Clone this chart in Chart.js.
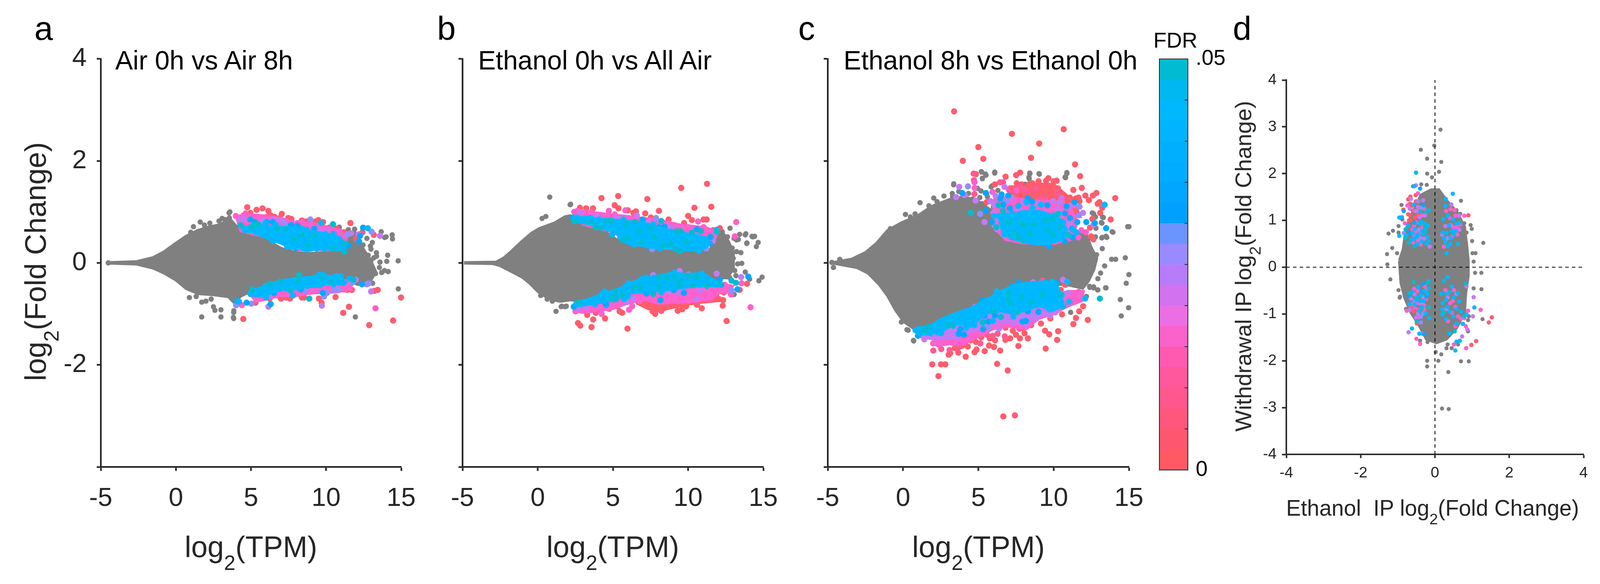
<!DOCTYPE html>
<html><head><meta charset="utf-8">
<script src="https://cdn.jsdelivr.net/npm/chart.js@4"></script>
<style>
html,body{margin:0;padding:0;background:#fff;overflow:hidden}
#page{position:relative;width:100vw;height:100vh;overflow:hidden;background:#fff;font-family:"Liberation Sans",Arial,sans-serif}
canvas{position:absolute}
.t{position:absolute;white-space:pre;line-height:1;color:#262626}
.k{color:#000}
.r{transform:rotate(-90deg) translateX(-50%);transform-origin:0 0}
.c{transform:translateX(-50%)}
</style></head><body><div id="page"></div>
<script>
// ---------- values ----------
const xTicksTPM=[-5,0,5,10,15];
const yTicksFC=[-4,-2,0,2,4];
const fdrSegment=[.0025,.0025,.0025,.0025,.0025,.0025,.0025,.0025,.0025,.0025,.0025,.0025,.0025,.0025,.0025,.0025,.0025,.0025,.0025,.0025];
const fdrColors=['#FF5A64','#FF5670','#FF567E','#FF578E','#FF589C','#FF5AB0','#FA62CC','#EC6EE4','#D272EE','#B67CFA','#9A8AFF','#6C94FF','#00A0FF','#00A6FF','#00ACFF','#00B0FF','#00B4FF','#00B8FC','#00B8F0','#00BBD2'];

// panel a
const aMass=[[-4.5,0],[-2.6,.02],[-1.5,.1],[-.75,.22],[0,.38],[.7,.52],[1.45,.63],[2.2,.7],[2.9,.74],[3.6,.85],[4,.72],[4.5,.62],[5,.56],[6,.45],[7,.28],[8,.2],[9,.18],[10,.2],[11,.24],[11.3,.45],[11.9,.6],[12.2,.42],[12.5,.25],[12.9,.08],[13.3,-.18],[13,-.32],[12.5,-.42],[12.1,-.42],[11.5,-.33],[11,-.28],[10,-.25],[9,-.24],[8,-.28],[7,-.33],[6,-.42],[5,-.55],[4.3,-.65],[3.9,-.78],[3.5,-.66],[2.5,-.62],[1.5,-.6],[.7,-.5],[0,-.33],[-.75,-.2],[-1.5,-.1],[-2.6,-.02]];
const aBandPinkUp=[[4,.9],[5,.95],[6,.93],[7,.88],[8,.8],[9,.78],[10,.72],[11,.62],[11.4,.5],[11.2,.25],[8,.25],[6,.5],[4.3,.62]];
const aBandSkyUp=[[4.3,.72],[5,.7],[6,.72],[7,.7],[8,.68],[9,.62],[10,.58],[10.9,.5],[11.2,.42],[11.3,.25],[10.5,.26],[9.5,.27],[8.8,.25],[7.6,.3],[7,.38],[6.4,.43],[5.8,.52],[5,.6],[4.5,.62]];
const aBandPinkLo=[[4.9,-.6],[6,-.45],[8,-.35],[10,-.3],[11.7,-.35],[11.7,-.52],[10.7,-.58],[9,-.6],[8,-.65],[7,-.65],[6,-.72],[5.3,-.76]];
const aBandSkyLo=[[4.9,-.55],[5.5,-.5],[6.2,-.42],[7,-.34],[8,-.3],[9,-.27],[9.6,-.22],[10,-.25],[11,-.26],[11.3,-.38],[11,-.42],[10,-.42],[9.5,-.47],[8.5,-.48],[8,-.52],[7,-.52],[6.3,-.6],[5.8,-.66],[5.2,-.65],[4.9,-.62]];
const aGray=[[-4.5,0],[13.67,.61],[13.9,.5],[14,.51],[14.4,.55],[14.42,.47],[12.72,.48],[13.08,.4],[12.95,.33],[12.99,.27],[13.35,.2],[12.8,.15],[14.1,.15],[14.04,.03],[14.8,.04],[13.18,.1],[13,.05],[13.59,.015],[13.36,.13],[13.55,-.09],[13.7,-.19],[13.89,-.15],[14.14,-.17],[13.29,-.21],[14.81,-.51],[13.1,-.4],[11.95,-1.06],[3.86,-.94],[3.83,-1.07],[12.46,.35],[12.46,.24],[12.42,.1],[11.9,.66],[11.48,.65],[10.88,.7],[3.54,.98],[3.6,1],[3.56,.88],[1.62,.8],[1.9,.74],[2.26,.78],[.99,.6],[1.17,.71],[2.87,.82],[3.08,.87],[3.27,.85],[1.72,-1.06],[2,-.75],[1.72,-.77],[.9,-.68],[1.35,-.66],[2.5,-.86],[2.6,-.93],[3,-.92],[3,-1.06],[3.85,-.97],[3.85,-1.09],[2.35,-.71],[3.8,-.71]];
const aRed=[[4.75,1.09],[5.37,1.04],[5.77,1.07],[6.16,1.02],[6.31,.93],[7.05,.96],[7.48,.88],[7.69,.86],[4.96,.98],[6.05,.9],[6.58,.9],[6.92,.88],[8.39,.83],[8.67,.81],[9.29,.81],[9.48,.84],[9.8,.8],[10.2,.69],[10.69,.67],[11.18,.6],[11.62,.78],[12.42,.6],[13.18,.55],[12,.47],[14.99,-.68],[14.46,-1.13],[12.87,-1.22],[11.52,-.86],[11.14,-.98],[4.49,-1.1],[9.7,-.78],[9.52,-.7],[10.63,-.67],[13.44,-.53],[13.21,-.55],[11.72,-.53],[11.4,-.53],[11.16,-.52],[8.54,-.68],[8.39,-.68],[7.33,-.68],[7.6,-.7],[7,-.7],[6.88,-.65],[9.18,-.54],[5.3,-.78],[5.48,-.71],[6.24,-.7],[8.24,-.61]];
const aPink=[[3.99,.92],[4.28,.89],[4.65,.97],[4.5,.93],[5.56,.88],[5.22,.84],[6.28,.88],[8.39,.8],[8.09,.78],[10.91,.62],[11.29,.52],[10.35,.67],[13.29,-.89],[4.39,-.83],[8.92,-.57],[9.41,-.55],[10.05,-.52],[8.05,-.57],[6.8,-.57],[5.56,-.63]];
const aViolet=[[6.16,-.86],[9.72,-.84],[13,-.56],[12.72,-.42],[13.59,.53],[11.67,.58],[11.97,-.33],[5.79,.83],[6.69,.84],[10.05,.62],[4.24,.84],[4.53,.86],[6.47,.85],[7.1,.83],[9.59,.64],[12.16,.56]];
const aPeri=[[8.95,.85],[11.42,.56],[13.03,.61],[12.85,-.4],[4.01,-.83],[5.03,-.8],[9.86,-.66],[10.06,-.59],[10.84,-.52],[10.56,-.54],[8.61,-.54],[11.74,-.39],[6.24,-.64],[7.3,.75]];
const aBlue=[[12.46,.69],[12.26,.53],[12.2,.42],[4.96,.85],[5.26,.8],[4.09,-.75],[4.71,-.78],[6.31,-.81],[9.78,-.59],[12.4,-.42],[6.54,-.59],[8.31,-.52],[6.05,.8],[6.46,.8],[7.67,.74],[8.09,.73],[9.22,.67],[10.8,.4],[11.48,.34],[8.46,.29],[8,.29]];
const aSky=[[12.78,.68],[9.67,.78],[4.62,.64],[5.11,.67],[5.48,.67],[5.75,.55],[5.82,.7],[5.97,.78],[6.24,.67],[6.46,.43],[6.65,.54],[6.65,.75],[6.88,.46],[6.95,.67],[7.26,.45],[7.41,.32],[7.67,.31],[7.48,.67],[7.71,.6],[8.01,.67],[8.01,.42],[8.27,.31],[8.39,.67],[8.69,.65],[8.73,.26],[8.99,.28],[8.84,.5],[8.92,.4],[9.37,.28],[9.59,.52],[9.52,.4],[9.97,.56],[10.2,.47],[9.86,.28],[10.05,.31],[10.5,.57],[10.5,.46],[10.84,.47],[10.69,.28],[10.91,.38],[11.1,.29],[8.16,.52],[6.95,.56],[7.71,.42],[8.54,.47],[9.97,.42],[9.2,.45],[7.2,.56],[8.3,.4],[4.2,-.76],[4.96,-.61],[5.52,-.53],[5.41,-.57],[5.97,-.45],[5.9,-.62],[6.01,-.68],[6.09,-.59],[6.43,-.52],[6.62,-.42],[6.92,-.51],[7.26,-.39],[7.41,-.37],[7.33,-.5],[7.8,-.64],[7.78,-.42],[8.2,-.49],[8.69,-.37],[8.73,-.45],[8.95,-.31],[9.29,-.39],[9.56,-.23],[9.56,-.44],[9.82,-.24],[9.97,-.37],[10.2,-.35],[10.69,-.26],[10.95,-.26],[10.5,-.42],[10.99,-.39],[11.18,-.39],[11.56,-.31],[8.24,-.34],[9.14,-.35]];
const aTeal=[[4.31,.74],[6.73,.67],[7.26,.66],[7.86,.48],[8.39,.55],[9.18,.53],[8.8,.34],[10.42,.28],[11.27,.38],[11.2,.22],[10.46,.76],[5.33,.75],[5.5,.75],[5.03,.71],[5.07,-.52],[6.28,-.41],[6.93,-.37],[7.63,-.54],[8.88,-.7],[8.2,-.24],[8.09,-.36],[10.39,-.37],[11.82,-.33],[9.75,-.29]];

// panel b
const bMass=[[-4.9,0],[-2.77,.01],[-2.26,.09],[-1.75,.22],[-1.07,.41],[-.39,.58],[.12,.67],[1.14,.78],[1.82,.9],[2.16,.92],[2.44,.78],[3.5,.72],[4.5,.6],[5,.5],[5.49,.4],[6.5,.33],[7.4,.3],[8.2,.25],[9.5,.22],[10.5,.22],[11.5,.27],[12,.55],[12.35,.57],[12.7,.4],[13,.19],[13,-.11],[12.6,-.29],[12.35,-.29],[11.5,-.31],[10.5,-.2],[10,-.21],[9,-.21],[8,-.26],[7,-.32],[6,-.42],[5,-.52],[4,-.65],[3,-.75],[2.2,-.72],[1.5,-.75],[1,-.72],[.3,-.62],[0,-.55],[-.5,-.4],[-1,-.28],[-1.7,-.17],[-2.5,-.05],[-3,-.01]];
const bBandPinkUp=[[2.4,1],[3.6,1],[4.9,.95],[6,.92],[7,.88],[8,.85],[9.5,.75],[10.5,.72],[11.2,.7],[12,.6],[11.7,.4],[10.7,.28],[8,.28],[6,.4],[5,.6],[3,.75]];
const bBandSkyUp=[[2.3,.9],[3.5,.88],[5,.85],[6,.82],[7,.8],[7.8,.72],[8.6,.65],[9.5,.6],[10.5,.55],[11.2,.5],[11.5,.4],[11.2,.3],[10.7,.24],[9.5,.25],[8.5,.28],[7.5,.3],[6.5,.36],[5.6,.42],[5.2,.6],[4.6,.65],[3.8,.72],[3,.78],[2.4,.82]];
const bBandRedLo=[[6.3,-.6],[7,-.6],[12,-.6],[12,-.75],[11,-.78],[10,-.82],[9,-.88],[8,-.95],[7.3,-.9],[6.6,-.8]];
const bBandPinkLo=[[2.4,-.85],[5,-.6],[6,-.5],[8,-.4],[10,-.35],[12,-.4],[13,-.45],[12.8,-.58],[12,-.6],[11.6,-.72],[10,-.78],[8,-.8],[7,-.72],[6,-.8],[5,-.9],[4,-.95],[3,-.98],[2.5,-.95]];
const bBandSkyLo=[[2.4,-.8],[3.2,-.72],[4.2,-.62],[4.9,-.55],[5.6,-.48],[6.2,-.38],[7,-.3],[8,-.25],[9,-.19],[10,-.22],[11,-.2],[11.5,-.3],[12.1,-.38],[12,-.45],[11,-.45],[10,-.48],[9,-.52],[8,-.55],[7,-.58],[6,-.6],[5.2,-.72],[4.4,-.78],[3.6,-.8],[2.8,-.85]];
const bGray=[[2.19,1.15],[2.4,1],[12.79,.68],[13.84,.57],[14.25,.52],[14.42,.52],[13.91,.39],[14.54,.32],[13.43,.56],[13.34,.46],[13.22,.45],[13.06,.48],[12.62,.51],[12.27,.61],[11.28,.65],[9.05,.75],[12.56,.22],[13.22,.22],[13.51,.2],[12.93,.29],[12.81,.14],[13.3,-.02],[13.57,-.01],[13,.09],[13.1,-.15],[13.8,-.18],[13.18,-.25],[12.77,-.29],[13.06,-.62],[14.09,-.32],[1.9,-.85],[1.61,-.85],[1.9,-.71],[.8,1.29],[2.16,1.14],[.29,.87],[.54,.91],[14.3,.51],[13.8,.55],[14.66,.4],[13.9,.38],[14.71,-.35],[14.92,-.28],[1.22,-.95],[1.56,-.86],[1.82,-.86],[.63,-.71],[.97,-.75],[.2,-.64]];
const bRed=[[9.54,1.47],[11.26,1.55],[4.24,1.27],[5.35,1.31],[7.29,1.25],[10.42,1.08],[11.54,1.1],[5.12,1.13],[5.37,1.07],[5.99,1.03],[6.36,.98],[6.53,1.01],[7.15,.97],[8.06,1.02],[7.52,.89],[8.7,.85],[10,.92],[10.25,.84],[9.73,.78],[9.38,.71],[11.03,.85],[11.24,.85],[10,.7],[12.11,.68],[11.65,.64],[2.81,1.08],[3.22,1.07],[3.68,1.07],[13.92,-.41],[13.43,-.53],[12.56,-1.14],[5.97,-1.29],[3.58,-1.26],[2.83,-1.23],[2.68,-1.18],[3.69,-1.11],[4.48,-1.09],[3.29,-1.02],[5.62,-.98],[5.45,-.95],[7.81,-1],[7.64,-.95],[8.22,-.94],[9.31,-.94],[9.61,-.91],[9.87,-.85],[9.01,-.82],[8.68,-.81],[10.91,-.89],[10.59,-.82],[12.3,-.84],[12.06,-.71],[12.33,-.73],[12.38,-.58],[11.44,-.71],[11.11,-.71],[11.73,-.62],[10.12,-.75],[9.54,-.77],[8.22,-.84],[7.89,-.86],[7.4,-.85],[7.06,-.77],[6.98,-.67],[5.29,-.85],[4.99,-.86],[4.75,-.9],[3.86,-.98],[4.17,-.86],[10.37,-.66],[8.47,-.77],[8.9,-.72],[7.7,-.72],[7.3,-.72]];
const bPink=[[2.44,1],[2.64,1.02],[3.1,.99],[3.55,.99],[4.73,1.02],[5.83,1.03],[5.12,.95],[10.66,.81],[11.03,.7],[13.2,.8],[13.1,.52],[14.15,-.87],[4.09,-.92],[2.52,-.95],[3.51,-.92],[4.25,-1],[6.07,-.92],[6.28,-.85],[6.78,-.75],[8.88,-.67],[9.87,-.72],[11.24,-.66],[11.57,-.62],[12.44,-.43],[13.55,-.4],[12.85,-.62],[10.2,-.62],[9.25,-.65],[7.56,-.72],[10.87,.42],[10.66,.5]];
const bViolet=[[6.59,.93],[2.85,.99],[3.9,.92],[2.68,-.9],[3.22,-.87],[9.44,-.16],[11.9,-.21],[13.53,-.28],[10.6,-.71],[11.65,.43],[8.84,.7],[5.25,.88],[5.49,.87],[4.83,.65],[7.31,.78],[8.06,.62],[10.04,.29],[6.36,-.7],[5.91,-.77],[10.78,-.54],[9.34,-.58],[8.72,-.56],[7.68,-.24],[10.04,-.23]];
const bPeri=[[12.89,-.54],[11.21,.28],[7.61,.27],[7.87,.88]];
const bBlue=[[2.4,-.86],[2.35,.89],[10.58,.66],[11.44,.38],[11.49,.51],[12.11,-.33],[13.28,-.52],[14,-.27],[4.54,-.82],[8.16,-.73],[9.72,-.59],[8.43,.71],[8.06,.7],[6.98,.85],[9.05,-.53],[7.23,-.6],[12.19,-.43]];
const bSky=[[2.6,.89],[2.93,.86],[3.18,.87],[3.51,.88],[4.09,.85],[4.63,.67],[4.96,.56],[5.2,.67],[5.66,.62],[5.49,.5],[6,.42],[6.2,.39],[6.43,.36],[6.57,.55],[7.06,.57],[7.27,.34],[7.4,.45],[7.68,.76],[7.56,.5],[7.89,.42],[8.14,.29],[8.22,.52],[8.55,.32],[8.63,.57],[8.84,.62],[9.05,.4],[9.46,.4],[9.75,.56],[9.54,.32],[10.12,.29],[10.37,.27],[10.7,.46],[10.73,.24],[10.58,.37],[11.16,.45],[11.9,.65],[5.7,.85],[6.49,.8],[6.15,.73],[2.56,-.81],[3.18,-.79],[3.26,-.77],[3.8,-.71],[3.8,-.81],[4.17,-.7],[4.46,-.56],[4.25,-.62],[4.79,-.63],[5.08,-.72],[5.66,-.52],[5.83,-.47],[5.99,-.65],[6.03,-.4],[5.74,-.71],[6.24,-.54],[6.9,-.32],[7.19,-.29],[6.98,-.52],[7.31,-.49],[7.73,-.29],[7.56,-.44],[8.22,-.58],[8.47,-.39],[8.78,-.24],[9.11,-.19],[8.88,-.42],[9.46,-.32],[9.87,-.42],[10.45,-.24],[10.91,-.21],[10.29,-.32],[10.82,-.43],[11.2,-.3],[11.61,-.42],[11.86,-.43]];
const bTeal=[[2.44,.82],[3.53,.78],[3.86,.7],[4.23,.69],[4.56,.81],[4.89,.83],[5.87,.76],[6.46,.8],[5.99,.5],[6.73,.62],[6.9,.4],[5.66,.45],[7.73,.51],[8.22,.82],[7.52,.68],[8.39,.34],[8.84,.38],[9.17,.27],[9.46,.23],[9.25,.62],[9.5,.62],[10.25,.59],[9.9,.42],[10.85,.62],[11.9,.61],[2.77,-.77],[5.16,-.56],[5.2,-.71],[4.92,-.68],[5.62,-.62],[6.4,-.48],[6.83,-.47],[7.68,-.61],[8.1,-.48],[8.02,-.29],[9.09,-.27],[8.59,-.28],[9.38,-.44],[9.5,-.35],[10.33,-.44],[10.04,-.25],[10.54,-.28],[11.24,-.45],[12.09,-.41],[12.89,-.35],[13.18,-.39]];

// panel c
const cMass=[[-4.67,0],[-3.4,.07],[-2.48,.2],[-1.75,.38],[-1.02,.63],[-.11,.78],[.99,.92],[1.9,1.1],[3.18,1.25],[4.09,1.29],[5,1.2],[5.73,1.05],[6.4,.95],[6.7,.6],[7.19,.45],[8.28,.38],[9.38,.38],[10.66,.42],[11.2,.6],[12.1,.6],[12.48,.3],[12.85,.09],[12.66,-.13],[12.3,-.35],[11.93,-.49],[10.84,-.42],[8.83,-.42],[7.92,-.49],[6.82,-.64],[5.37,-.93],[3.9,-1.15],[2.81,-1.3],[1.9,-1.3],[.8,-1.3],[.07,-1.15],[-.47,-.93],[-1.02,-.64],[-1.57,-.42],[-2.3,-.2],[-3.03,-.09],[-3.94,-.04]];
const cBandRedUp=[[7,1.5],[8,1.5],[9,1.55],[10,1.55],[10.6,1.4],[11.4,1.2],[11.8,.9],[11,.9],[8,.9],[7,1]];
const cBandPinkUp=[[6,1.25],[7,1.3],[8,1.25],[9,1.22],[10.5,1.2],[11.2,1.05],[11.6,.8],[11.2,.45],[10,.38],[8,.38],[6.8,.45],[6,.7]];
const cBandSkyUp=[[6.3,.95],[7.2,.95],[8,1],[9,1.02],[9.8,.95],[10.5,.85],[10.9,.65],[10.6,.45],[9.8,.38],[9,.36],[8,.4],[7,.5],[6.6,.6]];
const cBandPinkLo=[[2,-1.5],[3,-1.3],[6,-.9],[9,-.7],[11,-.55],[12,-.55],[11.9,-.75],[11,-.85],[10,-1],[9,-1.1],[8.2,-1.3],[7,-1.25],[6,-1.3],[5,-1.45],[4,-1.6],[3,-1.6],[2.2,-1.62]];
const cBandVioletLo=[[1,-1.45],[2,-1.2],[6,-.7],[8,-.4],[10.8,-.6],[10.3,-.97],[9,-1.05],[8,-1.2],[7,-1.15],[6,-1.2],[5,-1.3],[3.5,-1.48],[2,-1.5]];
const cBandSkyLo=[[.85,-1.27],[1.7,-1.25],[2.5,-1.1],[3.5,-.98],[4.5,-.88],[5.5,-.72],[6.5,-.55],[7.5,-.42],[8.5,-.38],[9.5,-.36],[10.2,-.4],[10.5,-.62],[10.7,-.85],[10,-.92],[9,-.85],[8,-.95],[7.3,-1],[6.5,-.95],[5.5,-1],[4.5,-1.25],[3.5,-1.2],[2.5,-1.35],[1.5,-1.4],[.9,-1.4]];
const cGray=[[-4.73,.01],[-4.62,-.09],[-4.2,.07],[15,.71],[14.76,.1],[14.12,.07],[15,-.23],[14.82,-.4],[14.98,-.88],[14.43,-.72],[14.49,-1.04],[13.94,.6],[13.48,-.49],[12.94,-.53],[13.39,-.06],[13.85,.07],[13.2,.49],[13.48,.52],[12.66,.96],[13.3,.89],[13.21,.78],[12.39,.49],[12.85,.16],[12.66,.09],[13.12,-.2],[12.94,-.31],[12.39,-.46],[12.66,-.49],[12.3,-.28],[10.88,1.75],[10.79,1.67],[9.05,1.74],[8.43,1.75],[8.38,1.65],[6.09,1.76],[5.22,1.78],[5.51,1.72],[5.27,1.65],[1.13,1.18],[1.72,1.12],[2.26,1.2],[2.04,1.27],[2.72,1.31],[3.36,1.53],[3.27,1.36],[.16,.95],[.8,.96],[.49,.9],[-.84,.67],[-.11,-1.16],[.26,-1.31],[.71,-1.53],[5.91,1.51],[5.55,1.36],[-.11,-.93],[5.2,1.79],[5.48,1.74],[5.27,1.66],[6.09,1.78],[8.41,1.76],[8.36,1.68],[9.03,1.75],[10.88,1.77],[10.76,1.68],[3.37,1.55],[12.57,.98],[12.78,.9],[13.24,.9],[13.17,.79],[14.92,.71],[13.89,.61],[13.53,.5],[13.23,.5],[12.81,.68],[12.78,.51],[13.23,.28],[4.95,1.46],[5.18,1.41],[4.35,1.36],[5.85,1.49],[5.1,1.28],[4.31,1.21],[5.25,1.16],[6.3,1.42],[8.11,1.54],[.69,-1.52],[.34,-1.32],[12.18,-.66],[11.13,-.97],[13.45,-.49],[12.92,-.53],[12.66,-.47],[12.4,-.48],[3.7,1.4],[3.3,1.3],[4.6,1.25],[5.7,1.2],[5.5,1.05],[6,1.1],[6.2,1.25],[5.6,1.3]];
const cRed=[[3.39,2.97],[7.23,2.53],[10.67,2.62],[9.04,2.34],[5,2.27],[3.97,2],[5.33,2.04],[8.5,2.06],[11.42,1.93],[11.76,1.7],[6.81,1.69],[7.51,1.72],[7.77,1.77],[9.65,1.66],[4.84,1.74],[11.31,1.43],[11.87,1.47],[12.11,1.32],[12.34,1.23],[12.61,1.32],[12.84,1.37],[14.09,1.27],[13.79,.85],[12.93,1.16],[13.04,1.19],[13.09,.98],[12.57,.86],[12.41,.69],[12.49,.52],[12.64,.46],[11.08,1.28],[11.65,1.28],[11.46,1.26],[11.72,1.21],[11.35,.98],[10.2,1.61],[10.01,1.6],[10.29,1.46],[9.77,1.45],[9.5,1.61],[9,1.6],[8.6,1.56],[8.37,1.54],[7.87,1.54],[7.55,1.56],[7.21,1.46],[6.1,1.54],[9.24,1.51],[9.46,1.46],[9.01,1.39],[9.46,1.36],[9.99,1.33],[10.52,1.33],[8.64,1.32],[7.66,1.31],[8.04,1.28],[9.69,1.23],[10.74,1.21],[11.05,.98],[5.55,1.19],[13.23,1.08],[10.14,1.18],[6.66,-3.01],[7.43,-2.99],[2.35,-2.22],[1.94,-1.99],[2.52,-1.99],[2.81,-1.99],[6.25,-1.98],[6.95,-2.11],[4.16,-1.84],[6.45,-1.72],[5.42,-1.73],[7.66,-1.63],[9.47,-1.68],[10.23,-1.51],[10.3,-1.34],[9.71,-1.4],[9.43,-1.33],[12.27,-1.12],[11.31,-1.2],[10.56,-1.01],[11.96,-.85],[11.48,-1.08],[11.7,-.95],[9.16,-1.19],[10.76,-.43],[10.47,-.53],[8.29,-1.48],[7.76,-1.48],[7.5,-1.41],[7.11,-1.48],[6.8,-1.51],[7.29,-1.33],[6.8,-1.27],[5.71,-1.62],[6.04,-1.65],[6.11,-1.52],[5.19,-1.46],[4.88,-1.7],[4.75,-1.75],[4.3,-1.64],[4.84,-1.55],[4.49,-1.52],[5.76,-1.48],[3.13,-1.77],[3.03,-1.8],[3.67,-1.76],[3.44,-1.67],[3.92,-1.63],[8.07,-1.38],[8.51,-1.22],[9.78,-1.09],[9.25,-1.03],[6,-1.22],[7.94,-1.28]];
const cRose=[[4.69,1.75],[4.71,1.62],[4.74,1.35],[6.44,1.58],[6.64,1.58],[8.85,1.46],[10.26,1.39],[7.02,1.44],[8.07,1.44],[7.74,1.49],[8.34,1.39],[9.43,1.26],[9.09,1.25],[10.03,.4],[2.01,-1.72],[2.54,-1.69],[3.09,-1.71],[3.7,-1.65],[5.13,-1.58],[4.62,-1.46],[5.95,-1.43],[6.28,-1.39],[6.76,-1.44],[7.72,-1.29],[9.25,-.35],[11.26,-.62],[11.66,-.57],[11.57,-.66],[9.38,-.95],[8.6,-.97],[5.58,-1.41],[8.12,-1.08]];
const cPink=[[4.74,1.58],[4.75,1.47],[5.94,1.39],[7.52,1.42],[7.28,1.16],[7.1,.98],[11.85,.64],[12.14,.6],[10.56,1.18],[9.88,.98],[9.39,1.18],[8.71,1.16],[11.12,.88],[11.35,.78],[8.11,1.19],[10.18,.43],[9.01,.41],[6.87,.5],[11.65,.5],[2,-1.58],[2.35,-1.6],[2.61,-1.48],[3.05,-1.53],[4.97,-1.36],[7.24,-.52],[7.77,-1.08]];
const cViolet=[[3.73,1.49],[4.09,1.33],[3.52,1.29],[4.82,1.22],[5.41,.8],[6.74,1.49],[6.15,1.31],[5.8,1.21],[6.04,1.14],[6,.98],[7.21,1.28],[8.04,1.19],[9.01,1.16],[9.97,1.21],[10.52,1.27],[10.37,1.18],[10.26,1.05],[11.05,1.12],[11.35,1.13],[11.95,.98],[11.05,.78],[10.97,.67],[12.66,.75],[9.39,.98],[8.41,.45],[6.23,.66],[6.08,.73],[7.73,1.06],[10.44,.67],[10.52,.47],[6.38,.85],[4.79,-.86],[1.41,-1.5],[2.08,-1.43],[3.31,-1.38],[2.96,-1.43],[3.57,-1.46],[4.71,-1.18],[5.01,-1.23],[6.37,-1.29],[6.67,-.99],[7.37,-1.17],[6.98,-1.13],[8.2,-1.2],[8.86,-1.09],[9.78,-1.03],[10.11,-.97],[10.96,-.59],[10.63,-.33],[8.64,-.38],[10.3,-.72],[7.07,-.98],[9.91,-.77]];
const cPeri=[[4.31,1.5],[5.12,.96],[6.91,1.23],[11.68,.93],[11.72,1.1],[5.71,-1.27],[6.72,-.66],[8.29,-.43]];
const cBlue=[[5.5,1.37],[5.48,1.02],[3.93,1.37],[6.55,1.34],[6.98,1.32],[6.46,1.26],[8.28,1.27],[8.58,1.2],[9.59,1.13],[10.86,1.11],[11.4,1.19],[10.76,.97],[11.08,.88],[11.57,.8],[12.17,.8],[12.74,.78],[13.49,.68],[7.1,1.07],[6.66,1.14],[5.91,.8],[6.83,.93],[7.47,.93],[9.69,.33],[11.23,.67],[11.23,.5],[7.25,.5],[10.74,.43],[8.37,.45],[5.29,-.73],[4.05,-1.41],[3.79,-1.3],[3.7,-1.39],[5.41,-1.04],[4.49,-1.05],[5.67,-1.15],[6.1,-1.03],[6.94,-.89],[7.94,-1.15],[8.16,-1.14],[8.99,-.96],[10.17,-.39],[7.68,-.39],[.99,-1.43],[7.24,-.46],[5.32,-1.3],[8.29,-.95]];
const cSky=[[13.39,1.14],[9.16,1.14],[8.19,1.19],[7.66,1.12],[7.21,.98],[6.04,.92],[6.37,.92],[6.64,.85],[6.72,.71],[6.72,.56],[7.06,.62],[7.55,.87],[7.81,.97],[8.04,.98],[8.34,.98],[8.71,.98],[9.2,.97],[8.6,1.08],[8.41,.85],[8.86,.85],[9.16,.85],[7.28,.72],[7.58,.6],[8.11,.57],[8.64,.57],[9.01,.55],[9.39,.47],[9.16,.42],[9.69,.5],[9.09,.67],[9.99,.7],[9.99,.93],[10.44,.57],[10.63,.8],[11.5,.6],[11.31,.65],[7.89,.78],[8.49,.73],[6.24,-.56],[10.91,-.37],[12.09,-.7],[11.04,-.76],[10.63,-.85],[10.3,-.82],[9.95,-.9],[9.73,-.91],[9.66,-.81],[9.91,-.37],[9.43,-.39],[8.86,-.47],[9.86,-.52],[10.04,-.62],[9.23,-.77],[8.81,-.75],[8.38,-.67],[8.03,-.75],[7.68,-.57],[8.16,-.57],[7.63,-.9],[7.33,-1.05],[7.33,-.92],[7.46,-.71],[6.94,-.82],[6.45,-.89],[5.67,-.76],[6.1,-.8],[5.32,-.94],[4.79,-1.01],[5,-1.03],[5.96,-1.14],[4.73,-1.22],[4.18,-1.27],[4.31,-1.11],[4.14,-.97],[3.79,-1.06],[3.53,-1.1],[3.05,-1.19],[2.7,-1.17],[2.48,-1.27],[2.3,-1.36],[2.52,-1.38],[1.82,-1.38],[1.47,-1.32],[1.12,-1.3],[.83,-1.32],[1.12,-1.38]];
const cTeal=[[4.5,.98],[6.34,1.13],[6.64,1.02],[6.19,.7],[6.91,.81],[7.1,.8],[7.89,.76],[8.04,.74],[8.71,.76],[9.49,.83],[9.92,.88],[10.32,.96],[10.41,.7],[9.6,.63],[9.94,.55],[8.45,.58],[7.7,.49],[7.89,.45],[7.4,.57],[10.96,.55],[1.73,-1.25],[3.33,-1.23],[5.29,-1.17],[6,-.94],[6.5,-1.06],[7.63,-.96],[7.2,-.8],[6.98,-.7],[6.98,-.58],[7.85,-.66],[8.51,-.77],[9.25,-.62],[10.52,-.63],[13.07,-.7],[2.96,-1.2],[1.43,-1.33]];

// panel d
const dxTicks=[-4,-2,0,2,4];
const dyTicks=[-4,-3,-2,-1,0,1,2,3,4];
const dMass=[[-.95,.14],[-.85,.38],[-.78,.78],[-.68,1.02],[-.54,1.26],[-.37,1.54],[-.1,1.65],[.1,1.65],[.31,1.42],[.58,1.18],[.79,.86],[.85,.46],[.89,.14],[.89,-.18],[.82,-.57],[.79,-.97],[.58,-1.29],[.31,-1.53],[.04,-1.61],[-.23,-1.53],[-.44,-1.21],[-.64,-.97],[-.81,-.65],[-.91,-.33]];
const dGray=[[.15,2.94],[-.02,2.6],[-.38,2.51],[-.21,2.32],[.17,2.25],[-.21,2],[-.08,1.92],[.11,2.04],[.7,1.42],[1.3,.52],[.99,.82],[.96,.9],[1,.56],[.85,.74],[-1.25,.72],[-1.13,.78],[-.98,.74],[-1.15,.41],[-1.29,.28],[-1.02,.3],[-1.28,.06],[-1.2,-.26],[-.98,-.49],[-.94,-.63],[1.25,-.12],[1.08,-.12],[1.25,-.47],[1.04,-.45],[1.04,.12],[1.01,.3],[1.09,.3],[1.28,-1.11],[.89,-1.37],[-.21,-2],[-.21,-2.12],[.09,-2],[.02,-1.81],[.17,-1.86],[.36,-2.24],[.7,-2.01],[.91,-2.01],[.19,-3.02],[.37,-3.03],[-.9,1.33],[-.59,1.73],[-.37,1.77],[-.22,1.76],[-.98,.88],[-.88,1.02],[.79,.94],[.68,1.14],[.58,1.22],[.34,-1.65],[.62,-1.65],[.45,-1.73],[.31,-1.73],[-.4,-1.57],[-.2,-1.6],[.89,-1.13],[.91,-1.05],[-.95,-.65],[-.78,-.89],[-.58,-1.03]];
const dRed=[[-.52,1.54],[-.66,1.51],[-.72,1.45],[-.67,1.36],[-.63,1.31],[-.51,1.41],[-.85,1.23],[-.72,1.13],[-.67,1.11],[-.7,1],[-.66,1],[-.6,1.21],[-.54,1.06],[-.47,1.11],[-.58,-.94],[-.66,-.85],[-.49,-1.2],[-.42,-.78],[1.53,-1.07],[1.45,-1.18],[1.11,-1.58],[.98,-1.66],[.9,1.11]];
const dPink=[[-.74,1.32],[-.46,1.58],[-.81,.94],[-.46,1.2],[-.29,1.25],[-.35,1.11],[-.5,.96],[-.56,.88],[-.43,.72],[-.51,.76],[-.61,.81],[-.46,.57],[-.38,.49],[-.59,.53],[-.33,.86],[-.56,-.46],[-.76,-.93],[-.5,-1.53],[-.28,-.4],[-.24,-.47],[-.46,-.51],[-.24,-.68],[-.48,-.77],[-.3,-.81],[-.55,-.86],[-.45,-.91],[-.29,-.9],[-.45,-1.07],[-.4,-1.64],[.79,1.1],[.68,.91],[.53,1.22],[.42,1.24],[.24,.44],[.58,.86],[1.23,-.91],[.84,-1.73],[.89,-.93],[.83,-1.26],[.51,-1.65],[.55,-1.26],[.45,-.97],[.28,-.49],[.41,-.77],[.51,-.49],[.62,-1.05],[.3,1.2],[.4,1.05],[.55,1.1],[.45,.65],[.3,.6],[.6,.7],[.5,.85],[.35,-.55],[.48,-.72],[.55,-.85],[.35,-1.15],[.7,-1.1]];
const dViolet=[[-.51,1.75],[-.32,1.43],[-.56,.67],[-.29,.61],[-.14,.44],[-.46,1.29],[-.68,1.25],[-.65,1.46],[-.53,1.2],[-.41,1.07],[-.27,1.11],[-.71,-1.39],[-.68,-.91],[-.65,-.67],[-.55,-.58],[-.32,-.64],[-.35,-1.42],[-.51,-1.08],[-.37,-.77],[-.46,-.99],[.44,1.34],[.43,.9],[.66,.8],[.19,.7],[.65,1.1],[.28,.88],[.34,.62],[1.04,-.64],[1.02,-1.05],[.73,-1.48],[.85,-.41],[.79,-1.09],[.87,-1.33],[.34,-.65],[.58,-.57],[.31,-.89]];
const dPeri=[[-.45,1.41],[-.37,1.27],[-.84,.73],[-.39,.63],[-.43,.81],[-.55,-.72],[-.64,-.79],[-.32,-.99],[-.38,-1.06],[-.38,-1.18]];
const dBlue=[[-.4,1.68],[-.84,1.2],[-.69,.74],[-.55,.95],[-.31,1.33],[-.32,-.36],[-.71,-.62],[-.37,-.51],[-.23,-.63],[-.29,-1.43]];
const dSky=[[-.51,2.02],[-.56,1.73],[-.58,1.34],[-.96,1.06],[-.89,1.07],[-.72,.89],[-.96,.67],[-.55,.82],[-.41,.93],[-.37,.97],[-.28,.93],[-.19,.88],[-.3,.71],[-.2,.65],[-.17,.56],[-.23,.5],[-.64,.58],[-.57,.61],[-.48,.49],[-.34,.76],[-.77,.68],[-.17,-.3],[-.45,-.42],[-.61,-.53],[-.49,-.64],[-.28,-.5],[-.21,-.56],[-.69,-.79],[-.25,-.98],[-.15,-1.09],[-.62,-1.31],[-.42,-1.42],[-.38,-.6],[-.42,-.93],[.48,1.57],[.29,1.46],[.28,1.31],[.22,1.03],[.38,.9],[.45,.78],[.31,.74],[.51,.7],[.31,.3],[.62,.5],[.21,.74],[.48,1.02],[.28,.54],[.41,.5],[.58,.94],[.34,-.21],[.24,-.29],[1.06,-.86],[.19,-1.01],[.34,-.85],[.58,-.89],[.85,-1.01],[.75,-1.21],[.67,-1.57],[.58,-1.59],[.55,-1.78],[.39,-1.41],[.58,-1.21],[.31,-.57],[.51,-.65],[.17,-.57],[.21,-.77],[.45,-.41],[.65,-.73],[.35,1.1],[.55,.78],[.42,.62],[.35,.45],[.25,.62],[.65,.95],[.3,-.7],[.4,-.95],[.5,-1.05],[.7,-.95],[.62,-.55],[.3,-1.1],[.2,-.9],[-.45,.7],[-.35,.55],[-.6,.72],[-.25,.82],[-.5,.65],[-.5,-.7],[-.4,-.72],[-.3,-.72],[-.35,-.85],[-.55,-.8]];
const dTeal=[[-.79,.81],[-.8,.63],[-.71,.52],[-.17,1.22],[-.23,1.18],[-.39,1.18],[-.27,.86],[-.28,.74],[-.55,.45],[-.57,-.32],[-.19,-.33],[-.16,-.45],[-.17,-.86],[-.36,-.88],[-.68,-.56],[-.49,-1.15],[.83,-.35],[.79,-1.05],[.53,-1.37],[.41,-.53],[.24,-.97]];
const dHLine=[[-4,0],[4,0]];
const dVLine=[[0,-4],[0,4]];

// ---------- drawing: layout is given in reference pixels and fitted to the actual window ----------
const SX=window.innerWidth/5582,SY=window.innerHeight/1496,FS=Math.sqrt(SX*SY);
const colGray='#808080',colAxis='#262626',colRed='#FF5C6C',colRose='#FF5A96',colPink='#FF60CC',colViolet='#C47AF4',colPeri='#8E90FF',colBlue='#00A8FF',colSky='#00B8FF',colTeal='#00BCD2';
const page=document.getElementById('page');
const toPts=a=>a.map(p=>({x:p[0],y:p[1]}));
const dots=(a,c,r)=>({type:'scatter',data:toPts(a),pointRadius:r,pointBackgroundColor:c,pointBorderWidth:0,pointHoverRadius:r,showLine:false,clip:false});
const poly=(a,c,w)=>({type:'scatter',data:toPts(a.concat([a[0]])),showLine:true,pointRadius:0,borderColor:c,borderWidth:w,backgroundColor:c,fill:'shape',tension:0,clip:false});

function addChart(spec){
  const padL=Math.round(220*FS),padT=Math.round(70*FS),padR=Math.round(90*FS),padB=Math.round(260*FS);
  const l=Math.round(spec.l*SX),r=Math.round(spec.r*SX),t=Math.round(spec.t*SY),b=Math.round(spec.b*SY);
  const W=r-l+padL+padR,H=b-t+padT+padB;
  const cv=document.createElement('canvas');
  cv.width=W;cv.height=H;cv.style.left=(l-padL)+'px';cv.style.top=(t-padT)+'px';cv.style.width=W+'px';cv.style.height=H+'px';
  page.appendChild(cv);
  const sets=spec.sets.map((s,i,all)=>Object.assign({order:all.length-i},s));
  new Chart(cv,{type:'scatter',data:{datasets:sets},options:{
    responsive:false,animation:false,devicePixelRatio:1,events:[],
    layout:{padding:{left:0,top:padT,right:padR,bottom:0}},
    plugins:{legend:{display:false},tooltip:{enabled:false},title:{display:false}},
    scales:{
      x:Object.assign({afterFit(s){s.height=padB}},spec.x),
      y:Object.assign({afterFit(s){s.width=padL}},spec.y)
    }}});
}
function axis(min,max,step,vals,lw,tl,fs,pad,cb){
  return {type:'linear',min,max,
    afterBuildTicks(s){s.ticks=vals.map(v=>({value:v}))},
    grid:{drawOnChartArea:false,drawTicks:true,tickLength:tl*FS,tickWidth:lw*FS,tickColor:colAxis},
    border:{display:true,color:colAxis,width:lw*FS},
    ticks:{stepSize:step,autoSkip:false,maxRotation:0,padding:pad*FS,color:colAxis,font:{family:'"Liberation Sans"',size:fs*FS},callback:cb||(v=>String(v))}};
}
function layers(o,r1,r2){
  const s=[poly(o.mass,colGray,10*FS),dots(o.gray,colGray,r1*FS)];
  if(o.extra)s.push(...o.extra);
  [[o.red,colRed,o.redB],[o.rose,colRose],[o.pink,colPink,o.pinkB],[o.violet,colViolet,o.violetB],[o.peri,colPeri],[o.blue,colBlue],[o.sky,colSky,o.skyB],[o.teal,colTeal]].forEach(([a,c,bands])=>{
    (bands||[]).forEach(bd=>s.push(poly(bd,c,6*FS)));
    if(a)s.push(dots(a,c,r2*FS));
  });
  return s;
}
const blank=()=>'';
addChart({l:351,r:1400,t:145,b:1196,sets:layers({mass:aMass,gray:aGray,red:aRed,pink:aPink,violet:aViolet,peri:aPeri,blue:aBlue,sky:aSky,teal:aTeal,pinkB:[aBandPinkUp,aBandPinkLo],skyB:[aBandSkyUp,aBandSkyLo]},8,9.3),
  x:axis(-5,15,5,xTicksTPM,5,12,78,36),y:axis(-4,4,2,yTicksFC,5,12,78,30,v=>v===-4?'':String(v))});
addChart({l:1613,r:2663,t:145,b:1196,sets:layers({mass:bMass,gray:bGray,red:bRed,pink:bPink,violet:bViolet,peri:bPeri,blue:bBlue,sky:bSky,teal:bTeal,redB:[bBandRedLo],pinkB:[bBandPinkUp,bBandPinkLo],skyB:[bBandSkyUp,bBandSkyLo]},8,9.3),
  x:axis(-5,15,5,xTicksTPM,5,12,78,36),y:axis(-4,4,2,yTicksFC,5,12,78,30,blank)});
addChart({l:2888,r:3939,t:145,b:1196,sets:layers({mass:cMass,gray:cGray,red:cRed,rose:cRose,pink:cPink,violet:cViolet,peri:cPeri,blue:cBlue,sky:cSky,teal:cTeal,redB:[cBandRedUp],pinkB:[cBandPinkUp,cBandPinkLo],violetB:[cBandVioletLo],skyB:[cBandSkyUp,cBandSkyLo]},8,9.3),
  x:axis(-5,15,5,xTicksTPM,5,12,78,36),y:axis(-4,4,2,yTicksFC,5,12,78,30,blank)});
const line=a=>({type:'scatter',data:toPts(a),showLine:true,pointRadius:0,borderColor:'#000',borderWidth:2.5*FS,borderDash:[9,8],clip:false});
addChart({l:4488,r:5525,t:205,b:1164,sets:layers({mass:dMass,gray:dGray,extra:[line(dHLine),line(dVLine)],red:dRed,pink:dPink,violet:dViolet,peri:dPeri,blue:dBlue,sky:dSky,teal:dTeal},6.2,6.5),
  x:axis(-4,4,2,dxTicks,4.5,11,46,18),y:axis(-4,4,1,dyTicks,4.5,13,46,16)});

// colour bar
const barOutline={id:'barOutline',afterDatasetsDraw(c){
  const a=c.chartArea,g=c.ctx,y=c.scales.y;g.save();
  g.strokeStyle=colAxis;g.lineWidth=2;g.strokeRect(a.left,a.top,a.right-a.left,a.bottom-a.top);
  y.ticks.forEach(t=>{const p=y.getPixelForValue(t.value);g.beginPath();g.moveTo(a.right-10*FS,p);g.lineTo(a.right,p);g.stroke();});
  g.restore();}};
(function(){
  const l=Math.round(4045*SX),r=Math.round(4144*SX),t=Math.round(151*SY),b=Math.round(1204*SY),padT=70,padL=20,padR=Math.round(160*FS),padB=60;
  const W=r-l+padL+padR,H=b-t+padT+padB;
  const cv=document.createElement('canvas');
  cv.width=W;cv.height=H;cv.style.left=(l-padL)+'px';cv.style.top=(t-padT)+'px';cv.style.width=W+'px';cv.style.height=H+'px';
  page.appendChild(cv);
  new Chart(cv,{type:'bar',plugins:[barOutline],data:{labels:['FDR'],datasets:fdrSegment.map((v,i)=>({data:[v],backgroundColor:fdrColors[i],borderWidth:0,barPercentage:1,categoryPercentage:1,stack:'s'}))},
   options:{responsive:false,animation:false,devicePixelRatio:1,events:[],layout:{padding:{left:padL,top:padT,right:0,bottom:padB}},
    plugins:{legend:{display:false},tooltip:{enabled:false}},
    scales:{x:{display:false,stacked:true,offset:true},
     y:{position:'right',stacked:true,min:0,max:.05,afterFit(s){s.width=padR},grid:{display:false},border:{display:false},
      ticks:{stepSize:.005,autoSkip:false,padding:14*FS,color:'#000',font:{family:'"Liberation Sans"',size:64*FS},callback:(v,i,all)=>i===0?'0':i===all.length-1?'.05':''}}}}});
})();

// text
function text(html,o){
  const d=document.createElement('div');d.className='t '+(o.cls||'');d.innerHTML=html;
  const f=o.f*FS;
  d.style.fontSize=f+'px';
  d.style.left=(o.r?o.x*SX-.8465*f:o.x*SX)+'px';
  d.style.top=(o.r?o.y*SY:o.y*SY-.8465*f)+'px';
  page.appendChild(d);
}
const logsub=(s,d)=>`log<span style="font-size:${s*FS}px;position:relative;top:${d*FS}px">2</span>`;
[['a',120],['b',1525],['c',2785],['d',4301]].forEach(([s,x])=>text(s,{x,y:103,f:100,cls:'k'}));
text('Air 0h vs Air 8h',{x:402,y:178,f:79,cls:'k'});
text('Ethanol 0h vs All Air',{x:1668,y:178,f:79,cls:'k'});
text('Ethanol 8h vs Ethanol 0h',{x:2943,y:178,f:79,cls:'k'});
[875.5,2138,3413.5].forEach(x=>text(logsub(62,38)+'(TPM)',{x,y:1428,f:88,cls:'c'}));
text(logsub(62,38)+'(Fold Change)',{x:161,y:670,f:88,r:1,cls:'r'});
text('FDR',{x:4024,y:122,f:64,cls:'k'});
text('Ethanol\u00a0\u00a0IP '+logsub(46,26)+'(Fold Change)',{x:4998,y:1322,f:66,cls:'c'});
text('Withdrawal IP '+logsub(48,28)+'(Fold Change)',{x:4366,y:682,f:68,r:1,cls:'r'});
</script></body></html>
